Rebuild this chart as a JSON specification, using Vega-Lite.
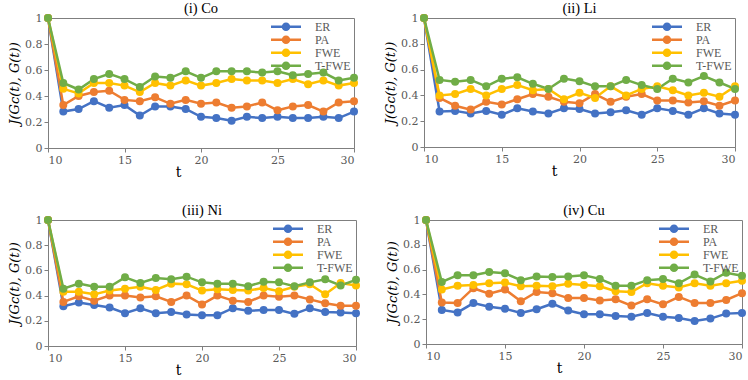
{
  "$schema": "https://vega.github.io/schema/vega-lite/v6.json",
  "background": "white",
  "padding": {"left": 8, "top": 0, "right": 4, "bottom": 2},
  "config": {
    "font": "DejaVu Serif",
    "view": {"stroke": "#7f7f7f", "strokeWidth": 1},
    "title": {"font": "Liberation Serif", "fontSize": 14.5, "fontWeight": "normal", "color": "#000000", "offset": -4},
    "axis": {
      "grid": false,
      "domainColor": "#7f7f7f",
      "tickColor": "#7f7f7f",
      "tickSize": 4,
      "labelFont": "DejaVu Serif",
      "labelFontSize": 11,
      "labelColor": "#595959",
      "titleFont": "DejaVu Serif",
      "titleFontWeight": "normal",
      "titleColor": "#000000"
    },
    "legend": {
      "orient": "top-right",
      "offset": 2,
      "title": null,
      "labelFont": "Liberation Serif",
      "labelFontSize": 12,
      "labelColor": "#595959",
      "symbolType": "M-5,0L5,0M-1,0A1,1 0 1,0 1,0A1,1 0 1,0 -1,0Z",
      "symbolSize": 36,
      "symbolStrokeWidth": 2.5,
      "symbolOffset": 10,
      "rowPadding": 0,
      "clipHeight": 11.5,
      "labelOffset": 23,
      "padding": 1
    }
  },
  "datasets": {
    "d": [
      {"p": "Co", "t": 10, "ER": 1, "PA": 1, "FWE": 1, "T-FWE": 1},
      {"p": "Co", "t": 11, "ER": 0.28, "PA": 0.33, "FWE": 0.455, "T-FWE": 0.5},
      {"p": "Co", "t": 12, "ER": 0.3, "PA": 0.4, "FWE": 0.42, "T-FWE": 0.45},
      {"p": "Co", "t": 13, "ER": 0.36, "PA": 0.43, "FWE": 0.5, "T-FWE": 0.53},
      {"p": "Co", "t": 14, "ER": 0.31, "PA": 0.44, "FWE": 0.5, "T-FWE": 0.57},
      {"p": "Co", "t": 15, "ER": 0.33, "PA": 0.37, "FWE": 0.48, "T-FWE": 0.53},
      {"p": "Co", "t": 16, "ER": 0.25, "PA": 0.36, "FWE": 0.43, "T-FWE": 0.47},
      {"p": "Co", "t": 17, "ER": 0.32, "PA": 0.39, "FWE": 0.5, "T-FWE": 0.55},
      {"p": "Co", "t": 18, "ER": 0.32, "PA": 0.34, "FWE": 0.48, "T-FWE": 0.54},
      {"p": "Co", "t": 19, "ER": 0.3, "PA": 0.37, "FWE": 0.52, "T-FWE": 0.59},
      {"p": "Co", "t": 20, "ER": 0.24, "PA": 0.34, "FWE": 0.48, "T-FWE": 0.54},
      {"p": "Co", "t": 21, "ER": 0.23, "PA": 0.35, "FWE": 0.5, "T-FWE": 0.59},
      {"p": "Co", "t": 22, "ER": 0.21, "PA": 0.31, "FWE": 0.53, "T-FWE": 0.59},
      {"p": "Co", "t": 23, "ER": 0.24, "PA": 0.32, "FWE": 0.52, "T-FWE": 0.59},
      {"p": "Co", "t": 24, "ER": 0.23, "PA": 0.35, "FWE": 0.52, "T-FWE": 0.58},
      {"p": "Co", "t": 25, "ER": 0.24, "PA": 0.29, "FWE": 0.5, "T-FWE": 0.59},
      {"p": "Co", "t": 26, "ER": 0.23, "PA": 0.32, "FWE": 0.53, "T-FWE": 0.56},
      {"p": "Co", "t": 27, "ER": 0.23, "PA": 0.33, "FWE": 0.49, "T-FWE": 0.57},
      {"p": "Co", "t": 28, "ER": 0.24, "PA": 0.28, "FWE": 0.52, "T-FWE": 0.58},
      {"p": "Co", "t": 29, "ER": 0.23, "PA": 0.35, "FWE": 0.48, "T-FWE": 0.52},
      {"p": "Co", "t": 30, "ER": 0.28, "PA": 0.36, "FWE": 0.5, "T-FWE": 0.54},
      {"p": "Li", "t": 10, "ER": 1, "PA": 1, "FWE": 1, "T-FWE": 1},
      {"p": "Li", "t": 11, "ER": 0.275, "PA": 0.38, "FWE": 0.4, "T-FWE": 0.52},
      {"p": "Li", "t": 12, "ER": 0.28, "PA": 0.32, "FWE": 0.41, "T-FWE": 0.505},
      {"p": "Li", "t": 13, "ER": 0.26, "PA": 0.29, "FWE": 0.45, "T-FWE": 0.52},
      {"p": "Li", "t": 14, "ER": 0.28, "PA": 0.35, "FWE": 0.4, "T-FWE": 0.47},
      {"p": "Li", "t": 15, "ER": 0.25, "PA": 0.33, "FWE": 0.45, "T-FWE": 0.53},
      {"p": "Li", "t": 16, "ER": 0.3, "PA": 0.37, "FWE": 0.48, "T-FWE": 0.54},
      {"p": "Li", "t": 17, "ER": 0.275, "PA": 0.41, "FWE": 0.44, "T-FWE": 0.49},
      {"p": "Li", "t": 18, "ER": 0.26, "PA": 0.39, "FWE": 0.45, "T-FWE": 0.45},
      {"p": "Li", "t": 19, "ER": 0.3, "PA": 0.35, "FWE": 0.37, "T-FWE": 0.53},
      {"p": "Li", "t": 20, "ER": 0.295, "PA": 0.34, "FWE": 0.42, "T-FWE": 0.51},
      {"p": "Li", "t": 21, "ER": 0.26, "PA": 0.41, "FWE": 0.38, "T-FWE": 0.47},
      {"p": "Li", "t": 22, "ER": 0.27, "PA": 0.35, "FWE": 0.47, "T-FWE": 0.47},
      {"p": "Li", "t": 23, "ER": 0.285, "PA": 0.39, "FWE": 0.4, "T-FWE": 0.52},
      {"p": "Li", "t": 24, "ER": 0.25, "PA": 0.41, "FWE": 0.45, "T-FWE": 0.48},
      {"p": "Li", "t": 25, "ER": 0.3, "PA": 0.36, "FWE": 0.47, "T-FWE": 0.45},
      {"p": "Li", "t": 26, "ER": 0.28, "PA": 0.36, "FWE": 0.44, "T-FWE": 0.53},
      {"p": "Li", "t": 27, "ER": 0.25, "PA": 0.345, "FWE": 0.4, "T-FWE": 0.5},
      {"p": "Li", "t": 28, "ER": 0.3, "PA": 0.355, "FWE": 0.42, "T-FWE": 0.55},
      {"p": "Li", "t": 29, "ER": 0.26, "PA": 0.32, "FWE": 0.39, "T-FWE": 0.5},
      {"p": "Li", "t": 30, "ER": 0.25, "PA": 0.36, "FWE": 0.47, "T-FWE": 0.45},
      {"p": "Ni", "t": 10, "ER": 1, "PA": 1, "FWE": 1, "T-FWE": 1},
      {"p": "Ni", "t": 11, "ER": 0.315, "PA": 0.35, "FWE": 0.43, "T-FWE": 0.455},
      {"p": "Ni", "t": 12, "ER": 0.345, "PA": 0.395, "FWE": 0.43, "T-FWE": 0.495},
      {"p": "Ni", "t": 13, "ER": 0.325, "PA": 0.36, "FWE": 0.41, "T-FWE": 0.47},
      {"p": "Ni", "t": 14, "ER": 0.305, "PA": 0.4, "FWE": 0.44, "T-FWE": 0.47},
      {"p": "Ni", "t": 15, "ER": 0.26, "PA": 0.4, "FWE": 0.455, "T-FWE": 0.545},
      {"p": "Ni", "t": 16, "ER": 0.3, "PA": 0.385, "FWE": 0.47, "T-FWE": 0.5},
      {"p": "Ni", "t": 17, "ER": 0.26, "PA": 0.395, "FWE": 0.445, "T-FWE": 0.54},
      {"p": "Ni", "t": 18, "ER": 0.27, "PA": 0.35, "FWE": 0.495, "T-FWE": 0.53},
      {"p": "Ni", "t": 19, "ER": 0.25, "PA": 0.4, "FWE": 0.49, "T-FWE": 0.55},
      {"p": "Ni", "t": 20, "ER": 0.245, "PA": 0.33, "FWE": 0.44, "T-FWE": 0.505},
      {"p": "Ni", "t": 21, "ER": 0.245, "PA": 0.4, "FWE": 0.45, "T-FWE": 0.495},
      {"p": "Ni", "t": 22, "ER": 0.3, "PA": 0.36, "FWE": 0.445, "T-FWE": 0.495},
      {"p": "Ni", "t": 23, "ER": 0.28, "PA": 0.35, "FWE": 0.44, "T-FWE": 0.475},
      {"p": "Ni", "t": 24, "ER": 0.285, "PA": 0.4, "FWE": 0.46, "T-FWE": 0.51},
      {"p": "Ni", "t": 25, "ER": 0.285, "PA": 0.39, "FWE": 0.435, "T-FWE": 0.505},
      {"p": "Ni", "t": 26, "ER": 0.255, "PA": 0.4, "FWE": 0.47, "T-FWE": 0.475},
      {"p": "Ni", "t": 27, "ER": 0.3, "PA": 0.37, "FWE": 0.49, "T-FWE": 0.505},
      {"p": "Ni", "t": 28, "ER": 0.27, "PA": 0.34, "FWE": 0.41, "T-FWE": 0.53},
      {"p": "Ni", "t": 29, "ER": 0.265, "PA": 0.32, "FWE": 0.5, "T-FWE": 0.48},
      {"p": "Ni", "t": 30, "ER": 0.26, "PA": 0.32, "FWE": 0.48, "T-FWE": 0.525},
      {"p": "Cu", "t": 10, "ER": 1, "PA": 1, "FWE": 1, "T-FWE": 1},
      {"p": "Cu", "t": 11, "ER": 0.275, "PA": 0.335, "FWE": 0.44, "T-FWE": 0.5},
      {"p": "Cu", "t": 12, "ER": 0.255, "PA": 0.33, "FWE": 0.47, "T-FWE": 0.555},
      {"p": "Cu", "t": 13, "ER": 0.33, "PA": 0.45, "FWE": 0.475, "T-FWE": 0.555},
      {"p": "Cu", "t": 14, "ER": 0.3, "PA": 0.405, "FWE": 0.49, "T-FWE": 0.58},
      {"p": "Cu", "t": 15, "ER": 0.285, "PA": 0.44, "FWE": 0.495, "T-FWE": 0.57},
      {"p": "Cu", "t": 16, "ER": 0.25, "PA": 0.345, "FWE": 0.465, "T-FWE": 0.515},
      {"p": "Cu", "t": 17, "ER": 0.28, "PA": 0.42, "FWE": 0.47, "T-FWE": 0.545},
      {"p": "Cu", "t": 18, "ER": 0.325, "PA": 0.41, "FWE": 0.465, "T-FWE": 0.54},
      {"p": "Cu", "t": 19, "ER": 0.27, "PA": 0.37, "FWE": 0.485, "T-FWE": 0.545},
      {"p": "Cu", "t": 20, "ER": 0.24, "PA": 0.37, "FWE": 0.475, "T-FWE": 0.555},
      {"p": "Cu", "t": 21, "ER": 0.24, "PA": 0.35, "FWE": 0.465, "T-FWE": 0.525},
      {"p": "Cu", "t": 22, "ER": 0.225, "PA": 0.36, "FWE": 0.425, "T-FWE": 0.47},
      {"p": "Cu", "t": 23, "ER": 0.22, "PA": 0.31, "FWE": 0.42, "T-FWE": 0.47},
      {"p": "Cu", "t": 24, "ER": 0.25, "PA": 0.36, "FWE": 0.49, "T-FWE": 0.515},
      {"p": "Cu", "t": 25, "ER": 0.22, "PA": 0.32, "FWE": 0.47, "T-FWE": 0.525},
      {"p": "Cu", "t": 26, "ER": 0.21, "PA": 0.38, "FWE": 0.455, "T-FWE": 0.49},
      {"p": "Cu", "t": 27, "ER": 0.185, "PA": 0.33, "FWE": 0.49, "T-FWE": 0.56},
      {"p": "Cu", "t": 28, "ER": 0.205, "PA": 0.33, "FWE": 0.47, "T-FWE": 0.505},
      {"p": "Cu", "t": 29, "ER": 0.245, "PA": 0.355, "FWE": 0.49, "T-FWE": 0.575},
      {"p": "Cu", "t": 30, "ER": 0.25, "PA": 0.41, "FWE": 0.51, "T-FWE": 0.55}
    ]
  },
  "resolve": {"legend": {"color": "independent"}, "scale": {"color": "independent"}},
  "spacing": 22,
  "vconcat": [
    {
      "resolve": {"legend": {"color": "independent"}, "scale": {"color": "independent"}},
      "spacing": 24,
      "hconcat": [
        {
          "title": "(i) Co",
          "width": 306, "height": 130,
          "data": {"name": "d"},
          "transform": [{"filter": "datum.p == 'Co'"}, {"fold": ["ER", "PA", "FWE", "T-FWE"], "as": ["m", "v"]}],
          "mark": {"type": "line", "strokeWidth": 2.5, "point": {"filled": true, "size": 64, "opacity": 1}},
          "encoding": {
            "x": {"field": "t", "type": "quantitative", "scale": {"domain": [10, 30], "nice": false}, "axis": {"values": [10, 15, 20, 25, 30], "title": "t", "titleFontSize": 14, "titlePadding": 0, "titleX": 130}},
            "y": {"field": "v", "type": "quantitative", "scale": {"domain": [0, 1], "nice": false}, "axis": {"values": [0, 0.2, 0.4, 0.6, 0.8, 1], "format": "~g", "title": "J(Gc(t), G(t))", "titleFontStyle": "italic", "titleFontSize": 13, "titlePadding": 3}},
            "color": {"field": "m", "type": "nominal", "scale": {"domain": ["ER", "PA", "FWE", "T-FWE"], "range": ["#4472C4", "#ED7D31", "#FFC000", "#70AD47"]}},
            "order": {"field": "t", "type": "quantitative"}
          }
        },
        {
          "title": "(ii) Li",
          "width": 311, "height": 129,
          "data": {"name": "d"},
          "transform": [{"filter": "datum.p == 'Li'"}, {"fold": ["ER", "PA", "FWE", "T-FWE"], "as": ["m", "v"]}],
          "mark": {"type": "line", "strokeWidth": 2.5, "point": {"filled": true, "size": 64, "opacity": 1}},
          "encoding": {
            "x": {"field": "t", "type": "quantitative", "scale": {"domain": [10, 30], "nice": false}, "axis": {"values": [10, 15, 20, 25, 30], "title": "t", "titleFontSize": 14, "titlePadding": 0, "titleX": 130}},
            "y": {"field": "v", "type": "quantitative", "scale": {"domain": [0, 1], "nice": false}, "axis": {"values": [0, 0.2, 0.4, 0.6, 0.8, 1], "format": "~g", "title": "J(Gc(t), G(t))", "titleFontStyle": "italic", "titleFontSize": 13, "titlePadding": 3}},
            "color": {"field": "m", "type": "nominal", "scale": {"domain": ["ER", "PA", "FWE", "T-FWE"], "range": ["#4472C4", "#ED7D31", "#FFC000", "#70AD47"]}},
            "order": {"field": "t", "type": "quantitative"}
          }
        }
      ]
    },
    {
      "resolve": {"legend": {"color": "independent"}, "scale": {"color": "independent"}},
      "spacing": 24,
      "hconcat": [
        {
          "title": "(iii) Ni",
          "width": 308, "height": 126,
          "data": {"name": "d"},
          "transform": [{"filter": "datum.p == 'Ni'"}, {"fold": ["ER", "PA", "FWE", "T-FWE"], "as": ["m", "v"]}],
          "mark": {"type": "line", "strokeWidth": 2.5, "point": {"filled": true, "size": 64, "opacity": 1}},
          "encoding": {
            "x": {"field": "t", "type": "quantitative", "scale": {"domain": [10, 30], "nice": false}, "axis": {"values": [10, 15, 20, 25, 30], "title": "t", "titleFontSize": 14, "titlePadding": 0, "titleX": 130}},
            "y": {"field": "v", "type": "quantitative", "scale": {"domain": [0, 1], "nice": false}, "axis": {"values": [0, 0.2, 0.4, 0.6, 0.8, 1], "format": "~g", "title": "J(Gc(t), G(t))", "titleFontStyle": "italic", "titleFontSize": 13, "titlePadding": 3}},
            "color": {"field": "m", "type": "nominal", "scale": {"domain": ["ER", "PA", "FWE", "T-FWE"], "range": ["#4472C4", "#ED7D31", "#FFC000", "#70AD47"]}},
            "order": {"field": "t", "type": "quantitative"}
          }
        },
        {
          "title": "(iv) Cu",
          "width": 316, "height": 124,
          "data": {"name": "d"},
          "transform": [{"filter": "datum.p == 'Cu'"}, {"fold": ["ER", "PA", "FWE", "T-FWE"], "as": ["m", "v"]}],
          "mark": {"type": "line", "strokeWidth": 2.5, "point": {"filled": true, "size": 64, "opacity": 1}},
          "encoding": {
            "x": {"field": "t", "type": "quantitative", "scale": {"domain": [10, 30], "nice": false}, "axis": {"values": [10, 15, 20, 25, 30], "title": "t", "titleFontSize": 14, "titlePadding": 0, "titleX": 133}},
            "y": {"field": "v", "type": "quantitative", "scale": {"domain": [0, 1], "nice": false}, "axis": {"values": [0, 0.2, 0.4, 0.6, 0.8, 1], "format": "~g", "title": "J(Gc(t), G(t))", "titleFontStyle": "italic", "titleFontSize": 13, "titlePadding": 3}},
            "color": {"field": "m", "type": "nominal", "scale": {"domain": ["ER", "PA", "FWE", "T-FWE"], "range": ["#4472C4", "#ED7D31", "#FFC000", "#70AD47"]}},
            "order": {"field": "t", "type": "quantitative"}
          }
        }
      ]
    }
  ]
}
